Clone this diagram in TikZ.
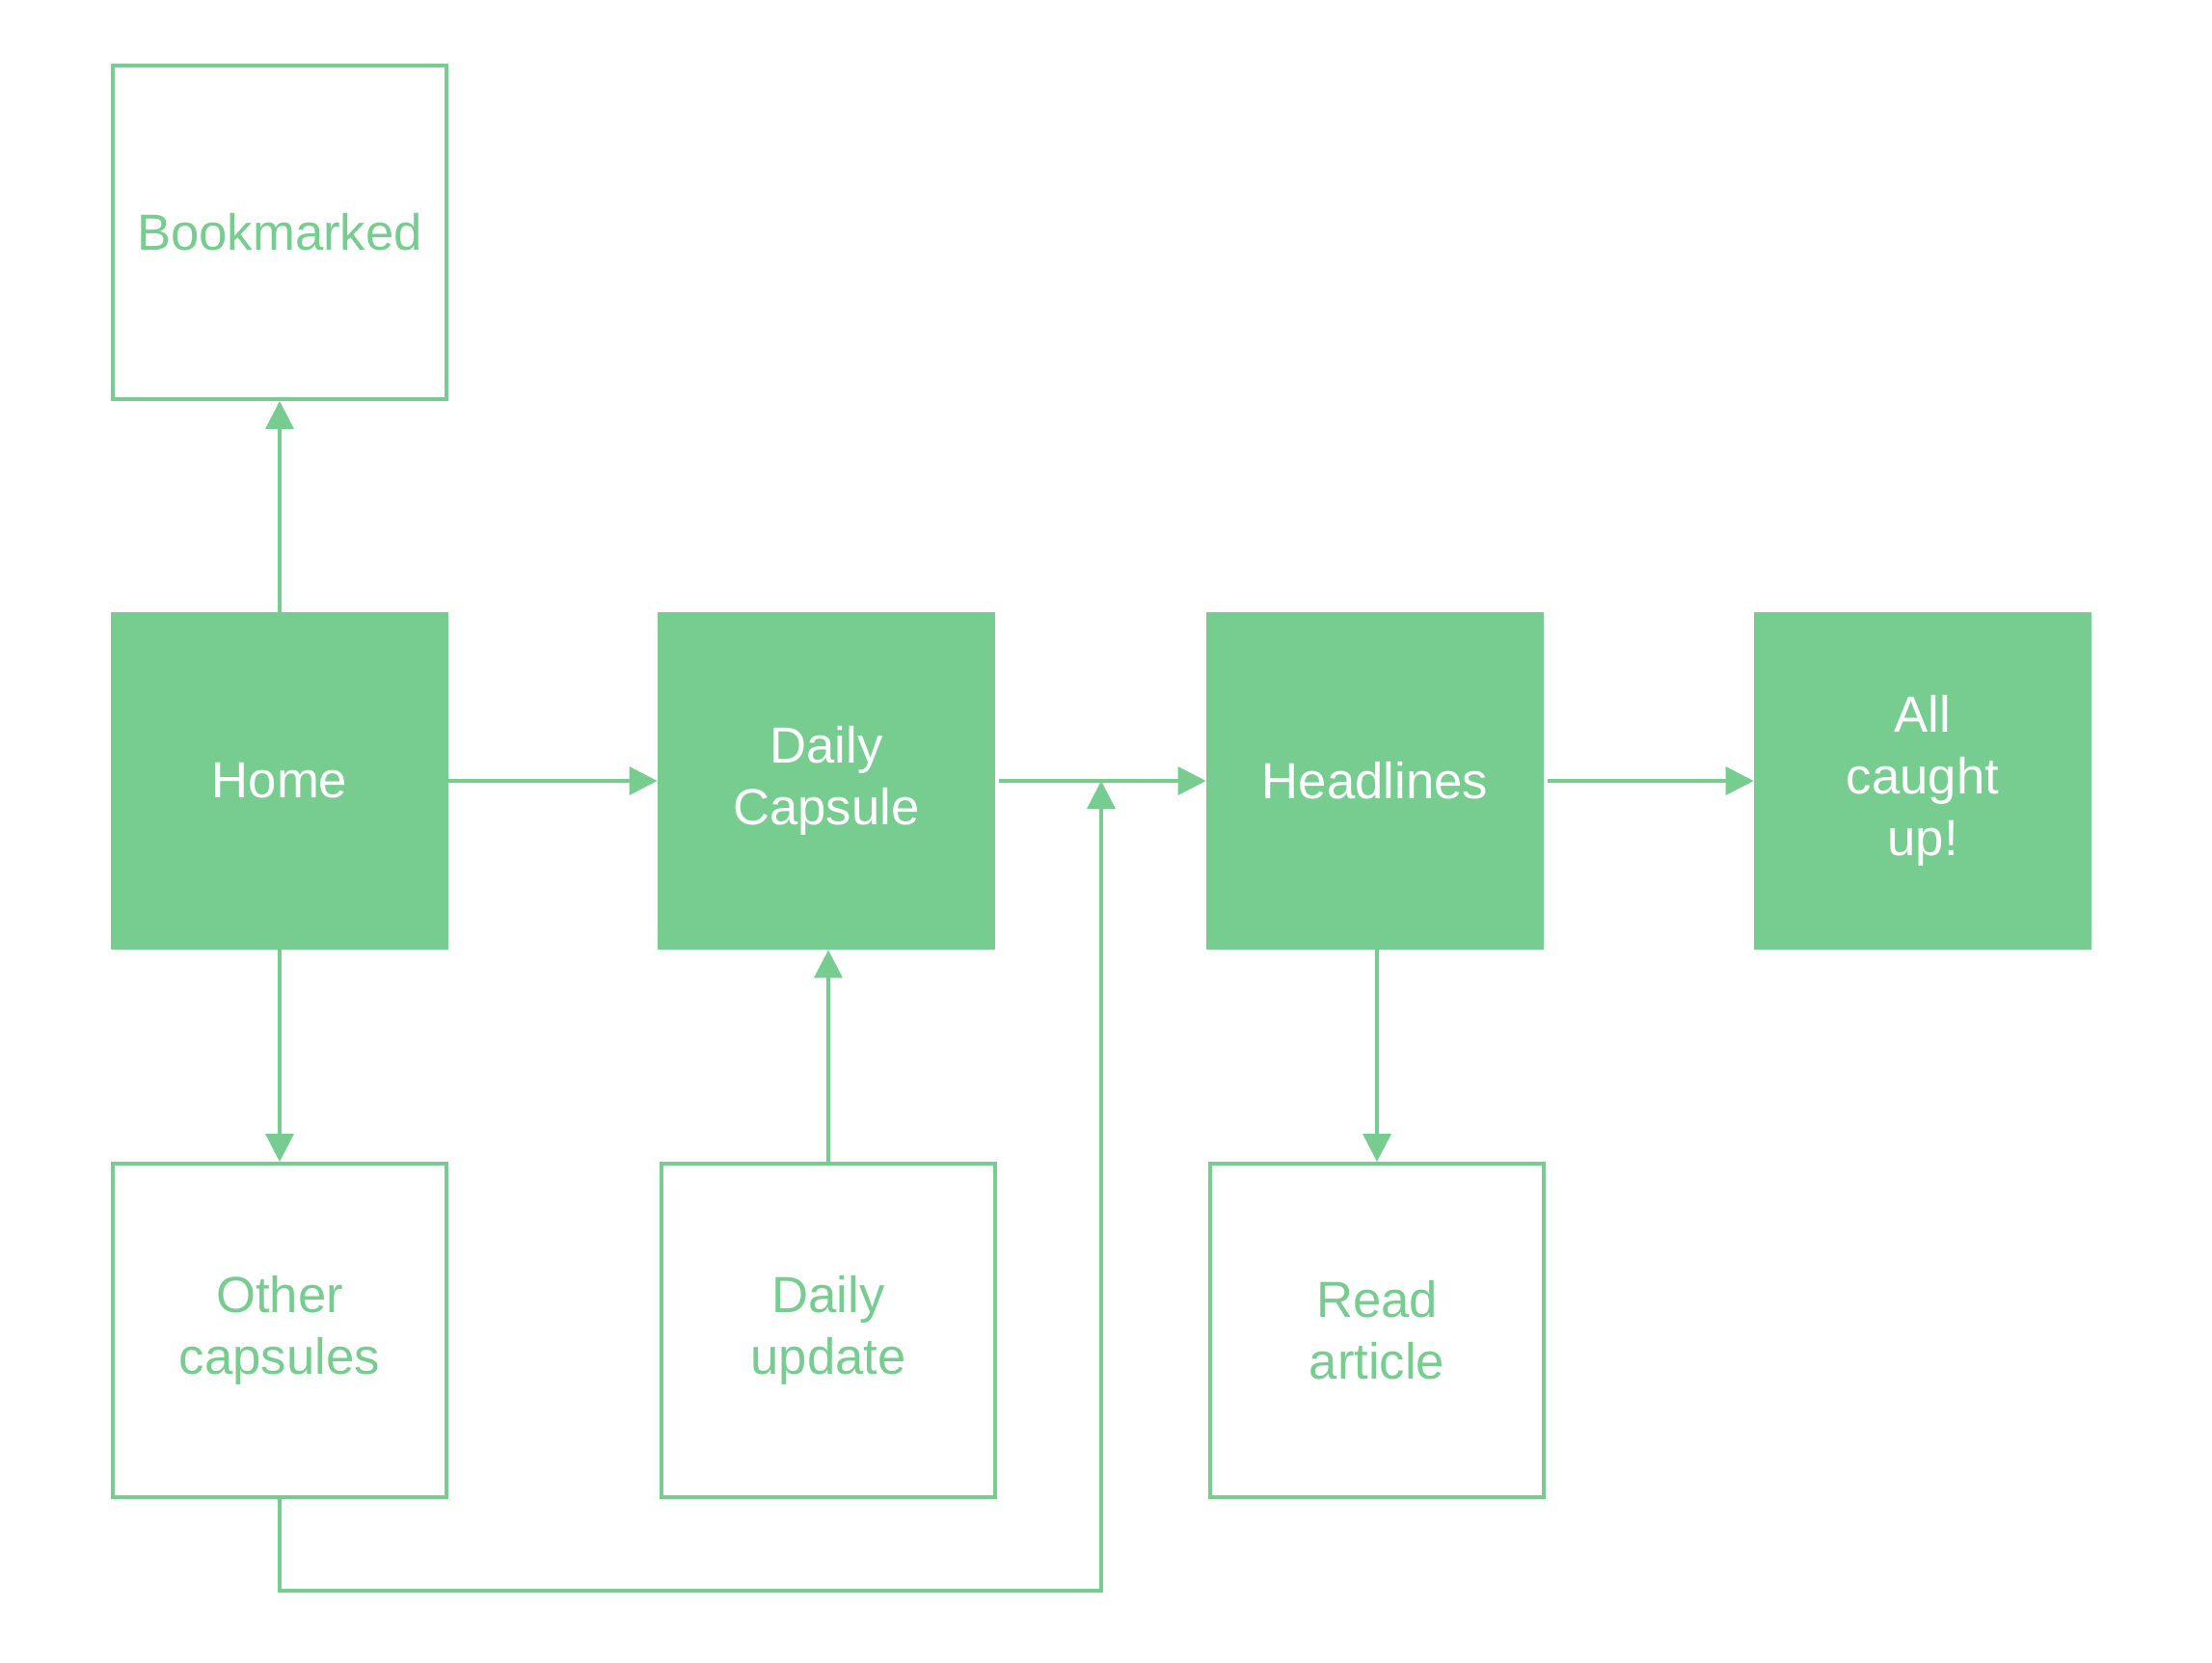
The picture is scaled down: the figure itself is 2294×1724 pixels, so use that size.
\documentclass[tikz,border=0pt]{standalone}
\usepackage{fontspec}
\setmainfont{Liberation Sans}
\usetikzlibrary{arrows.meta}
\definecolor{gr}{HTML}{77CD8F}
\begin{document}
\begin{tikzpicture}[x=0.02cm,y=-0.02cm,
  base/.style={minimum width=7cm,minimum height=7cm,inner sep=0pt,align=center,
    font=\fontsize{30}{36.4}\selectfont},
  solidbox/.style={base,fill=gr,text=white},
  outbox/.style={base,draw=gr,line width=0.07cm,minimum width=6.93cm,minimum height=6.93cm,text=gr},
  arr/.style={draw=gr,line width=0.07cm,-{Triangle[length=0.58cm,width=0.58cm]}},
  ln/.style={draw=gr,line width=0.07cm}]
\useasboundingbox (0,0) rectangle (2294,1724);
\node[outbox] (bm) at (290,241) {Bookmarked};
\node[solidbox] (home) at (290,810) {Home};
\node[solidbox] (cap) at (857,810) {Daily\\Capsule};
\node[solidbox] (head) at (1426,810) {Headlines};
\node[solidbox] (all) at (1994,810) {All\\caught\\up!};
\node[outbox] (other) at (290,1380) {Other\\capsules};
\node[outbox] (upd) at (859,1380) {Daily\\update};
\node[outbox] (read) at (1428,1380) {Read\\article};
\coordinate (j) at (1142,810);
\coordinate (b) at (1142,1650);
\draw[arr] (home.north) -- (bm.south);
\draw[arr] (home.south) -- (other.north);
\draw[arr] (home.east) -- (cap.west);
\draw[arr] ([xshift=2]cap.east) -- (head.west);
\draw[arr] ([xshift=2]head.east) -- (all.west);
\draw[arr] (upd.north) -- (upd.north |- cap.south);
\draw[arr] (read.north |- head.south) -- (read.north);
\draw[arr] (other.south) |- (b) -- (j);
\end{tikzpicture}
\end{document}
